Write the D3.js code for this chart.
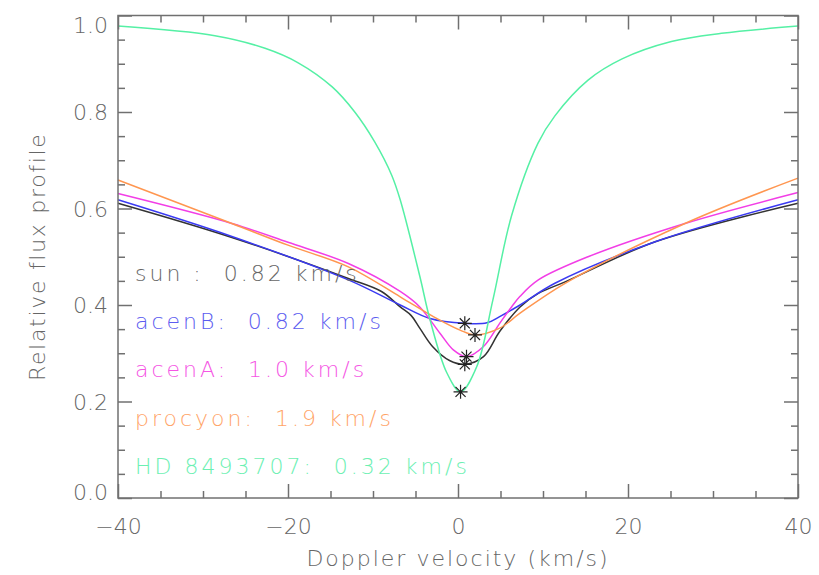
<!DOCTYPE html>
<html>
<head>
<meta charset="utf-8">
<script src="https://cdn.jsdelivr.net/npm/d3@7"></script>
<style>
  body { margin: 0; background: #fff; }
  text { font-family: "DejaVu Sans", sans-serif; font-weight: 300; }
</style>
</head>
<body>
<div id="wrapper"></div>
<script>
// profiles: [velocity km/s, relative flux]
const sunPts = [[-40,0.611],[-26.6,0.540],[-12.9,0.455],[-9,0.428],[-6.8,0.396],[-5.5,0.378],[-4.5,0.352],[-3,0.314],[-1,0.285],[0.8,0.277],[3,0.293],[4.9,0.345],[7.3,0.396],[9.45,0.424],[12.6,0.448],[23.2,0.531],[40,0.611]];
const acenBPts = [[-40,0.618],[-26.6,0.542],[-12.9,0.452],[-6.8,0.400],[-3.3,0.372],[0.8,0.362],[3.4,0.363],[4.9,0.376],[7.3,0.400],[11.4,0.445],[23.2,0.531],[40,0.618]];
const acenAPts = [[-40,0.631],[-26.6,0.569],[-20,0.530],[-12.9,0.486],[-6.8,0.428],[-4.5,0.396],[-2.1,0.341],[-0.55,0.307],[1,0.293],[3,0.314],[4.9,0.362],[6.3,0.396],[7.3,0.418],[9.45,0.452],[15.3,0.500],[26.7,0.569],[40,0.633]];
const procyonPts = [[-40,0.659],[-26.6,0.569],[-20,0.524],[-12.9,0.479],[-6.8,0.417],[-2.9,0.376],[0.24,0.348],[2,0.338],[4.9,0.352],[7.3,0.383],[12.6,0.445],[26.7,0.569],[40,0.663]];
const hdPts = [[-40,0.978],[-28.6,0.958],[-22.7,0.932],[-18.8,0.902],[-14.8,0.852],[-12.1,0.799],[-9.8,0.738],[-7.8,0.669],[-6.8,0.618],[-4.5,0.460],[-3.3,0.370],[-1.3,0.259],[0.3,0.220],[2.2,0.272],[4.1,0.410],[6.3,0.585],[9.4,0.735],[11.4,0.792],[15.3,0.866],[19.3,0.910],[25.1,0.946],[31,0.963],[40,0.978]];

// minimum markers
const starPts = [[0.8,0.277],[0.8,0.362],[1.0,0.293],[2.0,0.338],[0.3,0.220]];

const seriesPts = [sunPts, acenBPts, acenAPts, procyonPts, hdPts];
const lineColors = ["#333333", "#3a3af2", "#f23ee6", "#ff9650", "#55f0a5"];
const textColors = ["#666666", "#5c5cf0", "#f556e4", "#ffa468", "#6cf0b2"];
const legendLabels = ["sun :  0.82 km/s", "acenB:  0.82 km/s", "acenA:  1.0 km/s", "procyon:  1.9 km/s", "HD 8493707:  0.32 km/s"];
const legendY = [0.45, 0.35, 0.25, 0.15, 0.05];
const legendX = -38;

const xMajor = [-40, -20, 0, 20, 40];
const yMajor = [0, 0.2, 0.4, 0.6, 0.8, 1.0];

const axisColor = "#707070";
const labelColor = "#666666";

const dimensions = {
    width: 819,
    height: 575,
    margin: { top: 15.5, right: 21, bottom: 77, left: 118 }
};
dimensions.boundedWidth = dimensions.width - dimensions.margin.left - dimensions.margin.right;
dimensions.boundedHeight = dimensions.height - dimensions.margin.top - dimensions.margin.bottom;

const wrapper = d3.select("#wrapper")
    .append("svg")
    .attr("width", dimensions.width)
    .attr("height", dimensions.height);

const bounds = wrapper.append("g")
    .attr("transform", `translate(${dimensions.margin.left},${dimensions.margin.top})`);

const xScale = d3.scaleLinear().domain([-40, 40]).range([0, dimensions.boundedWidth]);
const yScale = d3.scaleLinear().domain([0, 1]).range([dimensions.boundedHeight, 0]);

// curves
const lineGen = d3.line()
    .x(d => xScale(d[0]))
    .y(d => yScale(d[1]))
    .curve(d3.curveCatmullRom.alpha(0.5));

bounds.selectAll(".profile")
    .data(seriesPts)
    .join("path")
    .attr("class", "profile")
    .attr("d", lineGen)
    .attr("fill", "none")
    .attr("stroke", (d, i) => lineColors[i])
    .attr("stroke-width", 1.5);

// asterisks
const r = 7, rd = r * 0.72;
bounds.selectAll(".star")
    .data(starPts)
    .join("path")
    .attr("class", "star")
    .attr("d", d => {
        const x = xScale(d[0]), y = yScale(d[1]);
        return `M${x - r},${y}h${2 * r}M${x},${y - r}v${2 * r}` +
               `M${x - rd},${y - rd}l${2 * rd},${2 * rd}M${x - rd},${y + rd}l${2 * rd},${-2 * rd}`;
    })
    .attr("stroke", "#222")
    .attr("stroke-width", 1.2);

// legend
bounds.selectAll(".legend")
    .data(legendLabels)
    .join("text")
    .attr("class", "legend")
    .attr("x", xScale(legendX))
    .attr("y", (d, i) => yScale(legendY[i]))
    .attr("fill", (d, i) => textColors[i])
    .style("font-size", "22px")
    .style("letter-spacing", "3px")
    .style("white-space", "pre")
    .text(d => d);

// frame
bounds.append("rect")
    .attr("width", dimensions.boundedWidth)
    .attr("height", dimensions.boundedHeight)
    .attr("fill", "none")
    .attr("stroke", axisColor)
    .attr("stroke-width", 1.5);

const xMinor = d3.range(-40, 41, 5).filter(v => v % 20 !== 0);
const yMinor = d3.range(0, 21).filter(i => i % 4 !== 0).map(i => i / 20);

function tickAxis(axis, sel) {
    sel.call(axis);
    sel.select(".domain").remove();
    sel.selectAll(".tick line").attr("stroke", axisColor).attr("stroke-width", 1.5);
}

const H = dimensions.boundedHeight, W = dimensions.boundedWidth;

// bottom / top ticks
tickAxis(d3.axisBottom(xScale).tickValues(xMajor).tickSize(-14).tickFormat(""),
    bounds.append("g").attr("transform", `translate(0,${H})`));
tickAxis(d3.axisBottom(xScale).tickValues(xMinor).tickSize(-7).tickFormat(""),
    bounds.append("g").attr("transform", `translate(0,${H})`));
tickAxis(d3.axisTop(xScale).tickValues(xMajor).tickSize(-14).tickFormat(""),
    bounds.append("g"));
tickAxis(d3.axisTop(xScale).tickValues(xMinor).tickSize(-7).tickFormat(""),
    bounds.append("g"));

// left / right ticks
tickAxis(d3.axisLeft(yScale).tickValues(yMajor).tickSize(-14).tickFormat(""),
    bounds.append("g"));
tickAxis(d3.axisLeft(yScale).tickValues(yMinor).tickSize(-7).tickFormat(""),
    bounds.append("g"));
tickAxis(d3.axisRight(yScale).tickValues(yMajor).tickSize(-14).tickFormat(""),
    bounds.append("g").attr("transform", `translate(${W},0)`));
tickAxis(d3.axisRight(yScale).tickValues(yMinor).tickSize(-7).tickFormat(""),
    bounds.append("g").attr("transform", `translate(${W},0)`));

// tick labels
const xLabels = bounds.append("g")
    .attr("transform", `translate(0,${H})`)
    .call(d3.axisBottom(xScale).tickValues(xMajor).tickSize(0).tickPadding(20).tickFormat(d3.format("d")));
xLabels.select(".domain").remove();
xLabels.selectAll("text").attr("fill", labelColor).style("font-size", "22px").attr("font-family", null);

const yLabels = bounds.append("g")
    .call(d3.axisLeft(yScale).tickValues(yMajor).tickSize(0).tickPadding(10).tickFormat(d3.format(".1f")));
yLabels.select(".domain").remove();
yLabels.selectAll("text")
    .attr("fill", labelColor)
    .style("font-size", "22px")
    .attr("font-family", null)
    .attr("dy", d => d === 1 ? "0.75em" : d === 0 ? "0.05em" : "0.36em");

// axis titles
wrapper.append("text")
    .attr("x", dimensions.margin.left + xScale(0))
    .attr("y", 566)
    .attr("text-anchor", "middle")
    .attr("fill", labelColor)
    .style("font-size", "22px")
    .style("letter-spacing", "2px")
    .text("Doppler velocity (km/s)");

wrapper.append("text")
    .attr("transform", `translate(45,${dimensions.margin.top + yScale(0.5)}) rotate(-90)`)
    .attr("text-anchor", "middle")
    .attr("fill", labelColor)
    .style("font-size", "22px")
    .style("letter-spacing", "1.7px")
    .text("Relative flux profile");
</script>
</body>
</html>
